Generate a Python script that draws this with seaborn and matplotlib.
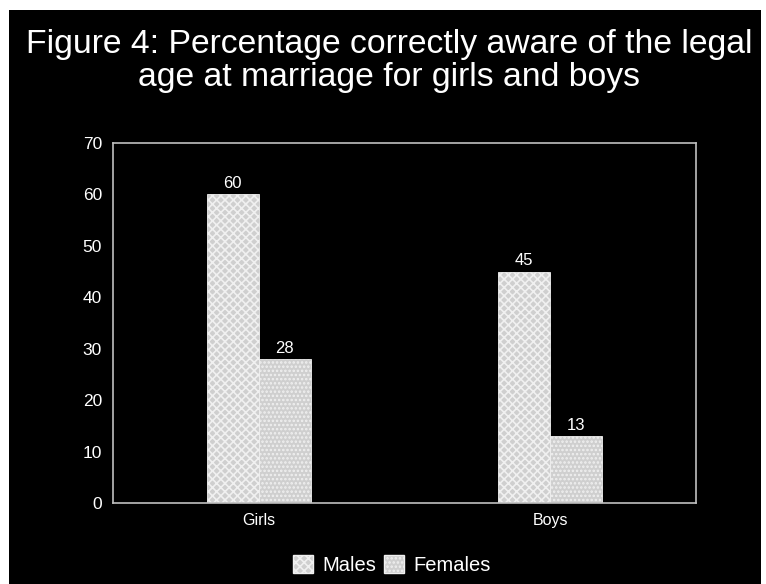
import matplotlib
matplotlib.use("Agg")
import matplotlib.pyplot as plt
import matplotlib.patches as mpatches
import seaborn as sns
import pandas as pd

categories = ["Girls", "Boys"]
groups = ["Males", "Females"]
males = [60, 45]
females = [28, 13]
yticks = [0, 10, 20, 30, 40, 50, 60, 70]
title = "Figure 4: Percentage correctly aware of the legal\nage at marriage for girls and boys"

df = pd.DataFrame({
    "category": categories * 2,
    "group": [groups[0]] * len(categories) + [groups[1]] * len(categories),
    "value": males + females,
})

sns.set_theme(style="dark")
plt.rcParams["font.family"] = ["Liberation Sans", "DejaVu Sans"]
plt.rcParams["hatch.color"] = "white"
plt.rcParams["hatch.linewidth"] = 1.2

fig = plt.figure(figsize=(7.66, 5.84), dpi=100, facecolor="white")
bg = fig.add_axes([9 / 766, 0, (761 - 9) / 766, 1 - 10 / 584])
bg.set_facecolor("black")
bg.set_xticks([])
bg.set_yticks([])
for s in bg.spines.values():
    s.set_visible(False)
bg.set_zorder(0)

ax = fig.add_axes([113 / 766, 1 - 503 / 584, (696 - 113) / 766, (503 - 143) / 584])
ax.set_zorder(1)
ax.set_facecolor("black")

bar_color = "#cfcfcf"
sns.barplot(data=df, x="category", y="value", hue="group", order=categories,
            hue_order=groups, palette=[bar_color, bar_color], width=0.357,
            saturation=1, legend=False, ax=ax, zorder=2)

hatches = ["xxxx", "...."]
for i, cont in enumerate(ax.containers):
    for bar in cont:
        bar.set_hatch(hatches[i])
        bar.set_edgecolor("#f0f0f0")
        bar.set_linewidth(0.6)
    ax.bar_label(cont, labels=[f"{v:g}" for v in cont.datavalues], padding=2.5,
                 color="white", fontsize=12)

ax.set_xlim(-0.5, 1.5)
ax.set_ylim(0, 70)
ax.set_yticks(yticks)
ax.set_xlabel("")
ax.set_ylabel("")
ax.grid(False)
ax.tick_params(axis="both", colors="white", labelsize=12.5, length=0, pad=8)
ax.tick_params(axis="x", labelsize=11.5, pad=7)
for t in ax.get_xticklabels() + ax.get_yticklabels():
    t.set_color("white")
for s in ax.spines.values():
    s.set_visible(True)
    s.set_color("#bfbfbf")
    s.set_linewidth(1.2)

fig.text(389 / 766, 1 - 61 / 584, title, ha="center", va="center", color="white",
         fontsize=24.3, linespacing=1.12, zorder=3)

handles = [mpatches.Patch(facecolor=bar_color, edgecolor="#f0f0f0", hatch=h, label=g)
           for g, h in zip(groups, hatches)]
leg = fig.legend(handles=handles, loc="center", bbox_to_anchor=(392 / 766, 1 - 565 / 584),
                 ncol=2, frameon=False, fontsize=14.5, handlelength=1.0, handleheight=1.0,
                 handletextpad=0.45, columnspacing=0.4, labelcolor="white")
leg.set_zorder(3)

fig.savefig("out.png", dpi=100, facecolor="white")
